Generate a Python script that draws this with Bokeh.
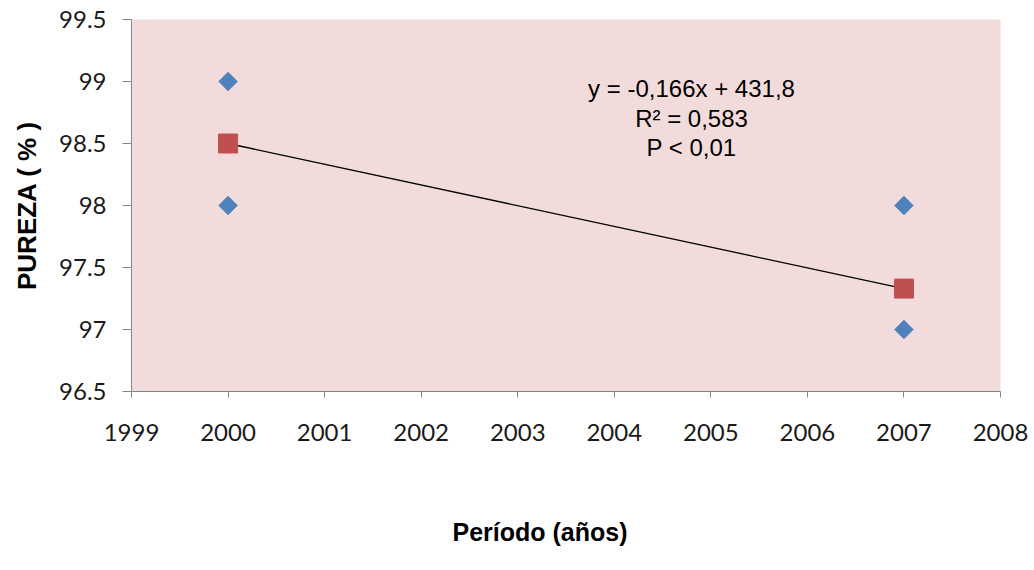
from bokeh.plotting import figure
from bokeh.models import FixedTicker, Range1d, Label, Title
from bokeh.embed import file_html
from bokeh.resources import INLINE
import math

# data
years_obs = [2000, 2000, 2007, 2007]
purity_obs = [99.0, 98.0, 98.0, 97.0]
years_mean = [2000, 2007]
purity_mean = [98.5, 97.33]
trend_x = [2000, 2007]
trend_y = [98.5, 97.33]
x_ticks = [1999, 2000, 2001, 2002, 2003, 2004, 2005, 2006, 2007, 2008]
y_ticks = [96.5, 97.0, 97.5, 98.0, 98.5, 99.0, 99.5]
eq_lines = ["y = -0,166x + 431,8", "R\u00b2 = 0,583", "P < 0,01"]
x_title = "Período (años)"
y_title = "PUREZA ( % )"

p = figure(width=1034, height=570, output_backend="svg", toolbar_location=None,
           x_range=Range1d(1999, 2008), y_range=Range1d(96.5, 99.5),
           min_border_left=131, min_border_right=34, min_border_top=19, min_border_bottom=177)
p.background_fill_color = "#F2DCDB"
p.border_fill_color = "white"
p.outline_line_color = None
p.xgrid.visible = False
p.ygrid.visible = False

for ax in (p.xaxis[0], p.yaxis[0]):
    ax.axis_line_color = "#868686"
    ax.major_tick_line_color = "#868686"
    ax.minor_tick_line_color = None
    ax.major_tick_in = 0
    ax.major_label_text_font = "Lato"
    ax.major_label_text_font_size = "24px"
    ax.major_label_text_color = "#1a1a1a"
    ax.axis_label_text_font = "Liberation Sans"
    ax.axis_label_text_font_style = "bold"
    ax.axis_label_text_color = "black"

p.xaxis.ticker = FixedTicker(ticks=x_ticks)
p.yaxis.ticker = FixedTicker(ticks=y_ticks)
p.xaxis.major_label_overrides = {t: str(t) for t in x_ticks}
p.yaxis.major_label_overrides = {t: (str(int(t)) if t == int(t) else str(t)) for t in y_ticks}
p.xaxis.major_tick_out = 6
p.yaxis.major_tick_out = 9
p.xaxis.major_label_standoff = 26
p.yaxis.major_label_standoff = 16
p.xaxis.axis_label = " "
p.xaxis.axis_label_text_font_size = "25px"
p.xaxis.axis_label_standoff = 17
p.yaxis.axis_label = y_title
p.yaxis.axis_label_text_font_size = "26px"
p.yaxis.axis_label_standoff = 14

p.add_layout(Title(text=x_title, align="left", offset=321, standoff=49,
                   text_font="Liberation Sans", text_font_style="bold", text_font_size="25px",
                   text_color="black"), "below")

p.line(trend_x, trend_y, line_color="black", line_width=1.3)
p.scatter(years_obs, purity_obs, marker="square", size=13, angle=math.pi / 4,
          fill_color="#4F81BD", line_color="#4F81BD")
p.scatter(years_mean, purity_mean, marker="square", size=19,
          fill_color="#C0504D", line_color="#C0504D")

eq_y = [98.94, 98.705, 98.47]
for txt, yy in zip(eq_lines, eq_y):
    p.add_layout(Label(x=2004.8, y=yy, text=txt, text_align="center", text_baseline="middle",
                       text_font="Liberation Sans", text_font_size="24px", text_color="black"))

open("out.html", "w").write(file_html(p, INLINE))
